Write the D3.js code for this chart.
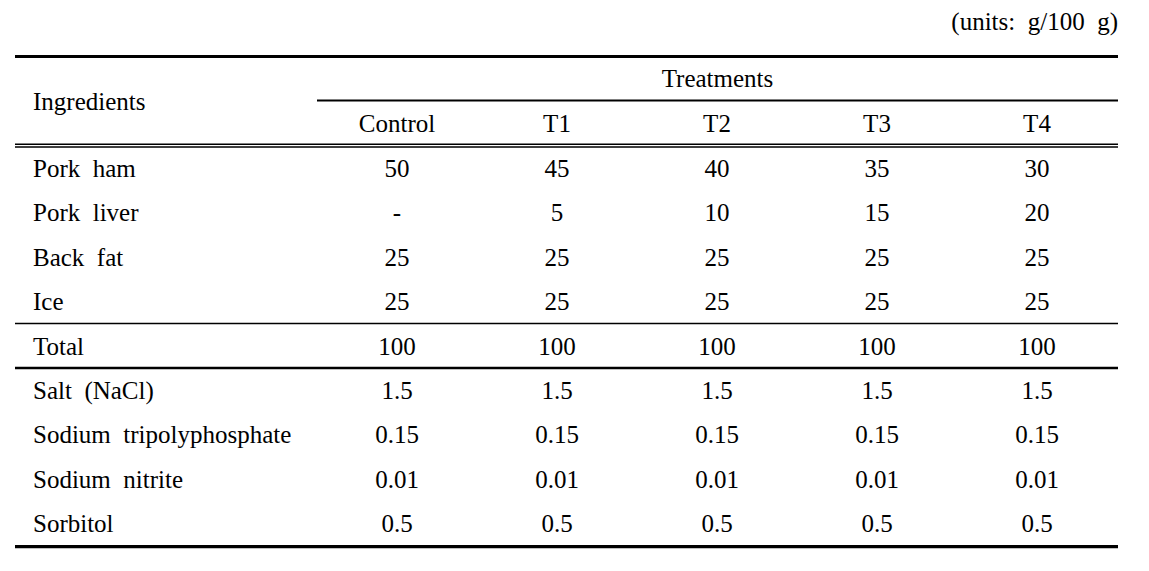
<!DOCTYPE html>
<html><head><meta charset="utf-8">
<script src="https://cdn.jsdelivr.net/npm/d3@7"></script>
<style>
html,body{margin:0;padding:0;background:#fff;}
svg text{font-family:"Liberation Serif","Times New Roman",serif;font-size:25px;fill:#000;white-space:pre;}
</style></head>
<body><svg id="c" width="1149" height="571"></svg>
<script>
const unitsLabel = "(units:  g/100  g)";
const stubHeader = "Ingredients";
const spanHeader = "Treatments";
const treatments = ["Control", "T1", "T2", "T3", "T4"];
const ingredients = ["Pork  ham", "Pork  liver", "Back  fat", "Ice", "Total",
  "Salt  (NaCl)", "Sodium  tripolyphosphate", "Sodium  nitrite", "Sorbitol"];
const controlValues = ["50", "-", "25", "25", "100", "1.5", "0.15", "0.01", "0.5"];
const t1Values = ["45", "5", "25", "25", "100", "1.5", "0.15", "0.01", "0.5"];
const t2Values = ["40", "10", "25", "25", "100", "1.5", "0.15", "0.01", "0.5"];
const t3Values = ["35", "15", "25", "25", "100", "1.5", "0.15", "0.01", "0.5"];
const t4Values = ["30", "20", "25", "25", "100", "1.5", "0.15", "0.01", "0.5"];
const seriesValues = [controlValues, t1Values, t2Values, t3Values, t4Values];

const svg = d3.select("#c");
const left = 15, right = 1118, labelX = 33;

const x = d3.scaleBand().domain(treatments).range([317, 1117]);
const y = d3.scalePoint().domain(ingredients).range([177, 532.2]);

// units
svg.append("text").attr("x", right).attr("y", 30).attr("text-anchor", "end").text(unitsLabel);

// rules
function rule(x1, x2, yy, w) {
  svg.append("line").attr("x1", x1).attr("x2", x2).attr("y1", yy).attr("y2", yy)
    .attr("stroke", "#000").attr("stroke-width", w);
}
rule(left, right, 56.5, 3);
rule(x.range()[0], right, 100.5, 2.2);
rule(left, right, 144.2, 1.5);
rule(left, right, 147, 1.5);
rule(left, right, 323.5, 1.3);
rule(left, right, 368, 2.3);
rule(left, right, 546.7, 3.2);

// headers
svg.append("text").attr("x", labelX).attr("y", 110).text(stubHeader);
svg.append("text").attr("x", (x.range()[0] + x.range()[1]) / 2 + 0.5).attr("y", 87)
  .attr("text-anchor", "middle").text(spanHeader);
svg.selectAll("text.colhead").data(treatments).join("text").attr("class", "colhead")
  .attr("x", d => x(d) + x.bandwidth() / 2).attr("y", 132)
  .attr("text-anchor", "middle").text(d => d);

// row labels
svg.selectAll("text.rowlab").data(ingredients).join("text").attr("class", "rowlab")
  .attr("x", labelX).attr("y", d => y(d)).text(d => d);

// cells
treatments.forEach((t, j) => {
  svg.selectAll("text.cell" + j).data(seriesValues[j]).join("text").attr("class", "cell" + j)
    .attr("x", x(t) + x.bandwidth() / 2)
    .attr("y", (d, i) => y(ingredients[i]))
    .attr("text-anchor", "middle").text(d => d);
});
</script></body></html>
